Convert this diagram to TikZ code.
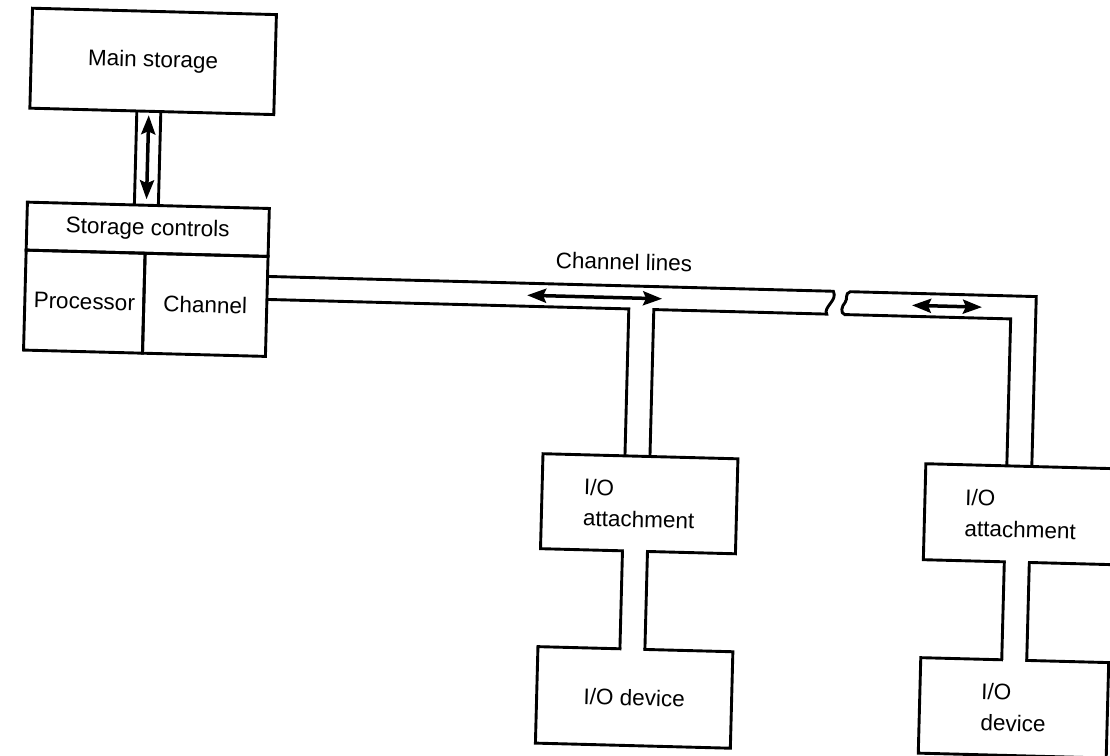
\documentclass[tikz,border=0pt]{standalone}
\usepackage{fontspec}
\setmainfont{Liberation Sans}
\usetikzlibrary{arrows.meta,calc}
\begin{document}
\begin{tikzpicture}[x=1pt,y=-1pt,
  box/.style={draw, line width=2.9pt, rectangle, inner sep=0pt, outer sep=0pt, align=left,
    font=\fontsize{22.5}{31}\selectfont},
  pipe/.style={line width=2.9pt, line join=miter},
  dblarrow/.style={line width=3.5pt,
    {Stealth[length=19pt,width=14pt,inset=3pt]}-{Stealth[length=19pt,width=14pt,inset=3pt]}},
  lbl/.style={font=\fontsize{22.5}{27}\selectfont, inner sep=0pt}]
\useasboundingbox (0,0) rectangle (1110,755);
\clip (0,0) rectangle (1110,755);
\fill[white] (0,0) rectangle (1110,755);
\begin{scope}[rotate around={-1.5:(555,377)}, transform shape]
  % processor complex
  \node[box, minimum width=244pt, minimum height=100pt] (ms) at (145,72) {Main storage};
  \node[box, minimum width=242pt, minimum height=48pt] (sc) at (144,240) {Storage controls};
  \node[box, minimum width=119pt, minimum height=100pt, anchor=north west] (proc) at (sc.south west) {Processor};
  \node[box, minimum width=123pt, minimum height=100pt, anchor=north east] (chan) at (sc.south east) {Channel};
  % storage bus
  \draw[pipe] (130,0 |- ms.south) -- (130,0 |- sc.north);
  \draw[pipe] (154,0 |- ms.south) -- (154,0 |- sc.north);
  \draw[dblarrow, shorten <=4pt, shorten >=6pt] (142,0 |- ms.south) -- (142,0 |- sc.north);
  % I/O units
  \node[box, minimum width=195pt, minimum height=95pt] (att1) at (642.5,501.5) {I/O\\attachment};
  \node[box, minimum width=195pt, minimum height=96.5pt] (dev1) at (642.5,695.25) {I/O device};
  \node[box, minimum width=192pt, minimum height=96pt] (att2) at (1024,502) {I/O\\attachment};
  \node[box, minimum width=188pt, minimum height=95.5pt] (dev2) at (1022,695.75) {I/O\\device};
  % channel lines
  \node[lbl] (cl) at (621,260) {Channel lines};
  \draw[pipe] (chan.east |- 0,307) -- (627,307) -- (627,0 |- att1.north);
  \draw[pipe] (652,0 |- att1.north) -- (652,307) -- (825,307)
     .. controls (821,300) and (836,293) .. (831,284) -- (chan.east |- 0,284);
  \draw[pipe] (1009,0 |- att2.north) -- (1009,307) -- (843,307)
     .. controls (838,306) and (840,298) .. (843,295)
     .. controls (846,291) and (842,286) .. (848,284) -- (1034,284) -- (1034,0 |- att2.north);
  \draw[dblarrow] (525,296) -- (660,296);
  \draw[dblarrow] (910,296) -- (980,296);
  % necks between attachments and devices
  \fill[white] (628.5,545) rectangle (650.5,651);
  \draw[pipe] (627,0 |- att1.south) -- (627,0 |- dev1.north);
  \draw[pipe] (652,0 |- att1.south) -- (652,0 |- dev1.north);
  \fill[white] (1010.5,545) rectangle (1032.5,652);
  \draw[pipe] (1009,0 |- att2.south) -- (1009,0 |- dev2.north);
  \draw[pipe] (1034,0 |- att2.south) -- (1034,0 |- dev2.north);
\end{scope}
\end{tikzpicture}
\end{document}
